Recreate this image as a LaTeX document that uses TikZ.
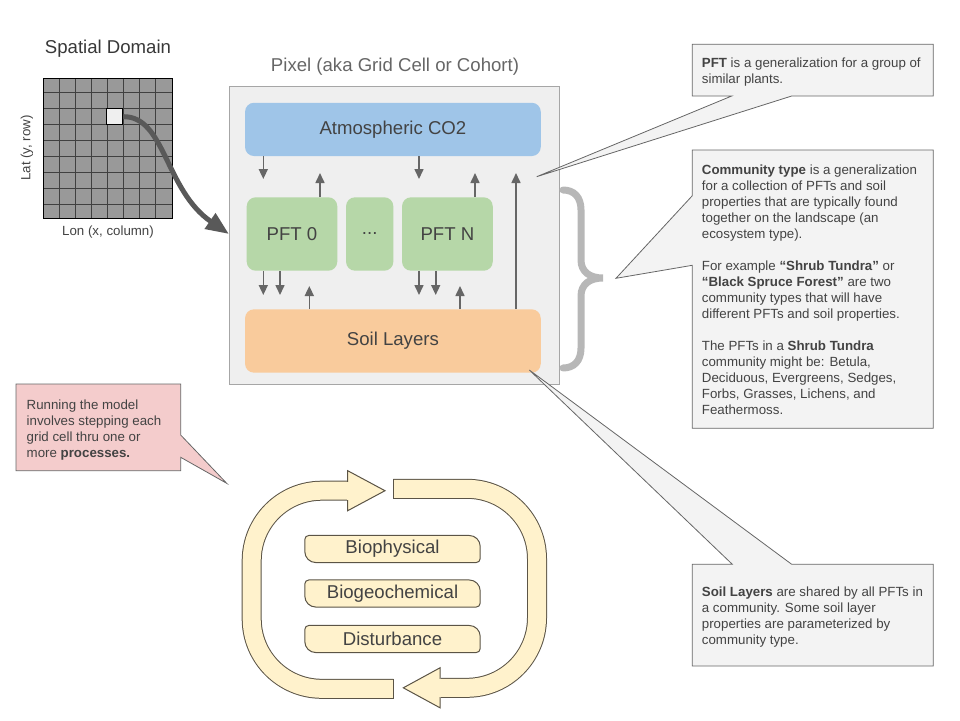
\documentclass[tikz,border=0pt]{standalone}
\usepackage{fontspec}
\setmainfont{Liberation Sans}
\usepackage{xcolor}
\usetikzlibrary{arrows.meta,calc,positioning,backgrounds}

\definecolor{labelgray}{HTML}{434343}
\definecolor{titlegray}{HTML}{666666}
\definecolor{flowgray}{HTML}{666666}
\definecolor{gridgray}{HTML}{999999}
\definecolor{cellwhite}{HTML}{EFEFEF}
\definecolor{pixelfill}{HTML}{EFEFEF}
\definecolor{pixeledge}{HTML}{A6A6A6}
\definecolor{co2blue}{HTML}{9FC5E8}
\definecolor{pftgreen}{HTML}{B6D7A8}
\definecolor{soilorange}{HTML}{F9CB9C}
\definecolor{notefill}{HTML}{F3F3F3}
\definecolor{noteedge}{HTML}{666666}
\definecolor{runpink}{HTML}{F4CCCC}
\definecolor{bracegray}{HTML}{B7B7B7}
\definecolor{procfill}{HTML}{FFF2CC}
\definecolor{procedge}{HTML}{5B5446}

\newcommand{\boxfont}{\fontsize{18.6}{22}\selectfont}
\newcommand{\notefont}{\fontsize{13.3}{16}\selectfont}

\tikzset{
  block/.style={rounded corners=9pt, inner sep=0pt, font=\boxfont, text=labelgray},
  flow/.style={draw=flowgray, line width=1.6pt, -{Triangle[length=10pt,width=9pt]}},
  note/.style={fill=notefill, draw=noteedge, line width=0.8pt},
  notetext/.style={anchor=north west, inner sep=0pt, align=left, font=\notefont, text=labelgray},
  ring/.style={draw=procfill, line width=18pt, rounded corners=70pt, preaction={draw=procedge, line width=20pt}},
  ringhead/.style={fill=procfill, draw=procedge, line width=1pt},
  proc/.style={fill=procfill, draw=procedge, line width=1pt},
}

\begin{document}
\begin{tikzpicture}[x=1pt, y=-1pt]
    \useasboundingbox (0,0) rectangle (960,720);

    % Spatial domain
    \node[font=\boxfont, text=black!78] (domain) at (108,49) {Spatial Domain};
    \fill[gridgray] (43,78) rectangle (172,218);
    \foreach \k in {1,...,7}
    {
        \draw[black!75, line width=0.6pt] ({43+16*\k},78) -- ({43+16*\k},218);
    }
    \foreach \k in {0,...,7}
    {
        \draw[black!75, line width=0.6pt] (43,{92.7+16*\k}) -- (172,{92.7+16*\k});
    }
    \draw[black, line width=1pt] (43,78) rectangle (172,218);
    \node[draw=black, line width=1pt, fill=cellwhite, minimum size=16pt, inner sep=0pt] (cell) at (114.7,116.7) {};
    \node[font=\notefont, text=labelgray, rotate=90] (lat) at (27,148) {Lat (y, row)};
    \node[font=\notefont, text=labelgray] (lon) at (108,232) {Lon (x, column)};

    % Pixel
    \node[font=\boxfont, text=titlegray] (pixeltitle) at (395,67) {Pixel (aka Grid Cell or Cohort)};
    \node[fill=pixelfill, draw=pixeledge, line width=0.8pt, minimum width=329.7pt, minimum height=298pt] (pixel) at (394.2,235) {};

    \node[block, fill=co2blue, minimum width=295.7pt, minimum height=53.3pt] (co2) at (392.9,129.4) {Atmospheric CO2};
    \node[block, fill=pftgreen, minimum width=90.6pt, minimum height=73.4pt] (pft0) at (292,234) {PFT 0};
    \node[block, fill=pftgreen, minimum width=47.3pt, minimum height=73.4pt] (pftdots) at (369.7,234) {...};
    \node[block, fill=pftgreen, minimum width=90.7pt, minimum height=73.4pt] (pftn) at (447.4,234) {PFT N};
    \node[block, fill=soilorange, minimum width=295.7pt, minimum height=63.4pt] (soil) at (392.9,341) {Soil Layers};

    % Fluxes
    \coordinate (a1) at (263.3,179);
    \coordinate (a2) at (320,173);
    \coordinate (a3) at (419,179);
    \coordinate (a4) at (475,173);
    \coordinate (a5) at (516,173);
    \coordinate (b1) at (263.3,295);
    \coordinate (b2) at (280,295);
    \coordinate (b3) at (309.3,286);
    \coordinate (b4) at (419,295);
    \coordinate (b5) at (435.7,295);
    \coordinate (b6) at (460,286);
    \draw[flow] (co2.south -| a1) -- (a1);
    \draw[flow] (pft0.north -| a2) -- (a2);
    \draw[flow] (co2.south -| a3) -- (a3);
    \draw[flow] (pftn.north -| a4) -- (a4);
    \draw[flow] (soil.north -| a5) -- (a5);
    \draw[flow] (pft0.south -| b1) -- (b1);
    \draw[flow] (pft0.south -| b2) -- (b2);
    \draw[flow] (soil.north -| b3) -- (b3);
    \draw[flow] (pftn.south -| b4) -- (b4);
    \draw[flow] (pftn.south -| b5) -- (b5);
    \draw[flow] (soil.north -| b6) -- (b6);

    % Cell to pixel
    \draw[draw=black!65, line width=5pt, -{Triangle[length=23pt,width=18pt]}] (cell.east) .. controls (165,116) and (165,190) .. (pixel.west |- pft0.center);

    % Community brace
    \draw[bracegray, line width=7pt, line cap=round] (563,190) .. controls (574,190) and (581,197) .. (581,210) -- (581,260) .. controls (581,272) and (590,278) .. (603,278) .. controls (590,278) and (581,284) .. (581,296) -- (581,348) .. controls (581,361) and (574,368) .. (563,368);

    % Notes
    \draw[note] (692.3,44.3) -- (933.3,44.3) -- (933.3,96) -- (791.7,96) -- (536.7,176.7) -- (731.7,96) -- (692.3,96) -- cycle;
    \node[notetext] (pftnote) at (701.7,57.2) {\textbf{PFT} is a generalization for a group of\\similar plants.};

    \draw[note] (692.3,150) -- (933.3,150) -- (933.3,428.3) -- (692.3,428.3) -- (692.3,265.3) -- (616,278.3) -- (692.3,195.7) -- cycle;
    \node[notetext] (commnote) at (701.7,164.5) {\textbf{Community type} is a generalization\\for a collection of PFTs and soil\\properties that are typically found\\together on the landscape (an\\ecosystem type).\\[16pt]For example \textbf{“Shrub Tundra”} or\\\textbf{“Black Spruce Forest”} are two\\community types that will have\\different PFTs and soil properties.\\[16pt]The PFTs in a \textbf{Shrub Tundra}\\community might be: Betula,\\Deciduous, Evergreens, Sedges,\\Forbs, Grasses, Lichens, and\\Feathermoss.};

    \draw[note] (692.3,564.3) -- (732.3,564.3) -- (529.3,370) -- (791.7,564.3) -- (933.3,564.3) -- (933.3,666) -- (692.3,666) -- cycle;
    \node[notetext] (soilnote) at (701.7,586.2) {\textbf{Soil Layers} are shared by all PFTs in\\a community. Some soil layer\\properties are parameterized by\\community type.};

    \draw[note, fill=runpink] (16,384) -- (180.7,384) -- (180.7,435) -- (226.7,483.3) -- (180.7,457.3) -- (180.7,470.7) -- (16,470.7) -- cycle;
    \node[notetext] (runnote) at (26.5,399.5) {Running the model\\involves stepping each\\grid cell thru one or\\more \textbf{processes.}};

    % Process cycle
    \draw[ring] (393.3,688.8) -- (251.7,688.8) -- (251.7,490.7) -- (349,490.7);
    \draw[procedge, line width=1pt] (393.3,678.8) -- (393.3,698.8);
    \filldraw[ringhead] (347.7,470.7) -- (385,490.7) -- (347.7,510.7) -- cycle;
    \draw[procfill, line width=18pt] (346.5,490.7) -- (349.5,490.7);

    \draw[ring] (393.3,488.8) -- (537,488.8) -- (537,687.8) -- (441,687.8);
    \draw[procedge, line width=1pt] (393.3,478.8) -- (393.3,498.8);
    \filldraw[ringhead] (440,667.8) -- (403.3,687.8) -- (440,707.8) -- cycle;
    \draw[procfill, line width=18pt] (438.5,687.8) -- (441.5,687.8);

    \node[font=\boxfont, text=labelgray, minimum width=175pt, minimum height=26.7pt, inner sep=0pt] (biophys) at (392.5,549) {Biophysical};
    \node[font=\boxfont, text=labelgray, minimum width=175pt, minimum height=26.7pt, inner sep=0pt] (biogeo) at (392.5,593.5) {Biogeochemical};
    \node[font=\boxfont, text=labelgray, minimum width=175pt, minimum height=26.7pt, inner sep=0pt] (disturb) at (392.5,639) {Disturbance};
    \begin{scope}[on background layer]
        \foreach \p in {biophys,biogeo,disturb}
        {
            \draw[proc] ($(\p.north west)+(4,0)$) -- ($(\p.north east)+(-11,0)$) arc[start angle=270, end angle=360, radius=11]
                -- ($(\p.south east)+(0,-4)$) arc[start angle=0, end angle=90, radius=4]
                -- ($(\p.south west)+(11,0)$) arc[start angle=90, end angle=180, radius=11]
                -- ($(\p.north west)+(0,4)$) arc[start angle=180, end angle=270, radius=4] -- cycle;
        }
    \end{scope}
\end{tikzpicture}
\end{document}
